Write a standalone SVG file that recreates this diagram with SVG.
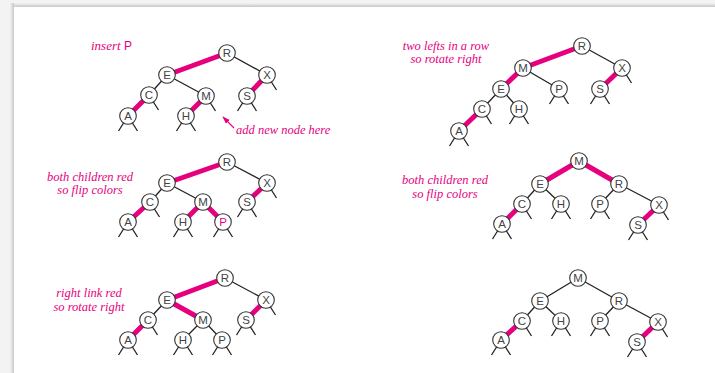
<svg xmlns="http://www.w3.org/2000/svg" width="715" height="373" viewBox="0 0 715 373">
<style>
.red{stroke:#e6007e;stroke-width:5;stroke-linecap:butt}
.blk{stroke:#222;stroke-width:1.3}
.stub{stroke:#222;stroke-width:1.3}
.nd circle{fill:#fff;stroke:#333;stroke-width:1.1}
.nd text{font-family:"Liberation Sans","DejaVu Sans",sans-serif;font-size:11.5px;fill:#444;text-anchor:middle}
.nd text.new{fill:#e6007e}
.lbl{font-family:"Liberation Serif",serif;font-style:italic;font-size:12.5px;fill:#e6007e;text-anchor:middle}
</style>
<defs>
<marker id="ah" viewBox="0 0 10 10" refX="9" refY="5" markerWidth="7" markerHeight="7" orient="auto">
<path d="M0,1.5 L10,5 L0,8.5 z" fill="#e6007e"/>
</marker>
<linearGradient id="shl" x1="0" x2="1" y1="0" y2="0"><stop offset="0" stop-color="#f3f3f3"/><stop offset="1" stop-color="#c8c8c8"/></linearGradient>
<linearGradient id="sht" x1="0" x2="0" y1="0" y2="1"><stop offset="0" stop-color="#f3f3f3"/><stop offset="1" stop-color="#c8c8c8"/></linearGradient>
</defs>
<rect x="0" y="0" width="715" height="373" fill="#f3f3f3"/>
<rect x="10" y="3" width="705" height="4" fill="url(#sht)"/>
<rect x="10" y="3" width="4" height="370" fill="url(#shl)"/>
<rect x="14" y="7" width="701" height="366" fill="#fff"/>

<g id="connectors">
<!-- panel 1 -->
<line class="red" x1="227" y1="53" x2="167" y2="75"/>
<line class="blk" x1="227" y1="53" x2="267" y2="75"/>
<line class="blk" x1="167" y1="75" x2="149" y2="95"/>
<line class="blk" x1="167" y1="75" x2="206" y2="96"/>
<line class="red" x1="149" y1="95" x2="128" y2="116"/>
<line class="red" x1="206" y1="96" x2="186" y2="116"/>
<line class="red" x1="267" y1="75" x2="247" y2="96"/>
<path class="stub" d="M128,116 l-9.5,15 M128,116 l9.5,15 M149,95 l9.5,15 M186,116 l-9.5,15 M186,116 l9.5,15 M206,96 l9.5,15 M247,96 l-9.5,15 M247,96 l9.5,15 M267,75 l9.5,15"/>
<line x1="234" y1="128" x2="223" y2="117" stroke="#e6007e" stroke-width="1.1" marker-end="url(#ah)"/>
<!-- panel 2 -->
<line class="red" x1="582" y1="46" x2="523" y2="68"/>
<line class="blk" x1="582" y1="46" x2="622" y2="68"/>
<line class="red" x1="523" y1="68" x2="501" y2="89"/>
<line class="blk" x1="523" y1="68" x2="559" y2="89"/>
<line class="blk" x1="501" y1="89" x2="482" y2="109"/>
<line class="blk" x1="501" y1="89" x2="519" y2="109"/>
<line class="red" x1="482" y1="109" x2="459" y2="131"/>
<line class="red" x1="622" y1="68" x2="600" y2="89"/>
<path class="stub" d="M459,131 l-9.5,15 M459,131 l9.5,15 M482,109 l9.5,15 M519,109 l-9.5,15 M519,109 l9.5,15 M559,89 l-9.5,15 M559,89 l9.5,15 M600,89 l-9.5,15 M600,89 l9.5,15 M622,68 l9.5,15"/>
<!-- panel 3 -->
<line class="red" x1="227" y1="162" x2="167" y2="183"/>
<line class="blk" x1="227" y1="162" x2="267" y2="183"/>
<line class="blk" x1="167" y1="183" x2="150" y2="202"/>
<line class="blk" x1="167" y1="183" x2="203" y2="202"/>
<line class="red" x1="150" y1="202" x2="128" y2="222"/>
<line class="red" x1="203" y1="202" x2="183" y2="222"/>
<line class="red" x1="203" y1="202" x2="223" y2="222"/>
<line class="red" x1="267" y1="183" x2="247" y2="202"/>
<path class="stub" d="M128,222 l-9.5,15 M128,222 l9.5,15 M150,202 l9.5,15 M183,222 l-9.5,15 M183,222 l9.5,15 M223,222 l-9.5,15 M223,222 l9.5,15 M247,202 l-9.5,15 M247,202 l9.5,15 M267,183 l9.5,15"/>
<!-- panel 4 -->
<line class="red" x1="579" y1="161" x2="540" y2="184"/>
<line class="red" x1="579" y1="161" x2="619" y2="184"/>
<line class="blk" x1="540" y1="184" x2="522" y2="204"/>
<line class="blk" x1="540" y1="184" x2="561" y2="204"/>
<line class="blk" x1="619" y1="184" x2="600" y2="204"/>
<line class="blk" x1="619" y1="184" x2="659" y2="205"/>
<line class="red" x1="522" y1="204" x2="502" y2="224"/>
<line class="red" x1="659" y1="205" x2="638" y2="225"/>
<path class="stub" d="M502,224 l-9.5,15 M502,224 l9.5,15 M522,204 l9.5,15 M561,204 l-9.5,15 M561,204 l9.5,15 M600,204 l-9.5,15 M600,204 l9.5,15 M638,225 l-9.5,15 M638,225 l9.5,15 M659,205 l9.5,15"/>
<!-- panel 5 -->
<line class="red" x1="225" y1="278" x2="167" y2="300"/>
<line class="blk" x1="225" y1="278" x2="266" y2="300"/>
<line class="blk" x1="167" y1="300" x2="148" y2="320"/>
<line class="red" x1="167" y1="300" x2="203" y2="320"/>
<line class="blk" x1="203" y1="320" x2="183" y2="340"/>
<line class="blk" x1="203" y1="320" x2="222" y2="340"/>
<line class="red" x1="148" y1="320" x2="128" y2="340"/>
<line class="red" x1="266" y1="300" x2="246" y2="320"/>
<path class="stub" d="M128,340 l-9.5,15 M128,340 l9.5,15 M148,320 l9.5,15 M183,340 l-9.5,15 M183,340 l9.5,15 M222,340 l-9.5,15 M222,340 l9.5,15 M246,320 l-9.5,15 M246,320 l9.5,15 M266,300 l9.5,15"/>
<!-- panel 6 -->
<line class="blk" x1="578" y1="278" x2="540" y2="301"/>
<line class="blk" x1="578" y1="278" x2="619" y2="301"/>
<line class="blk" x1="540" y1="301" x2="522" y2="321"/>
<line class="blk" x1="540" y1="301" x2="561" y2="321"/>
<line class="blk" x1="619" y1="301" x2="600" y2="321"/>
<line class="blk" x1="619" y1="301" x2="658" y2="322"/>
<line class="red" x1="522" y1="321" x2="501" y2="340"/>
<line class="red" x1="658" y1="322" x2="637" y2="342"/>
<path class="stub" d="M501,340 l-9.5,15 M501,340 l9.5,15 M522,321 l9.5,15 M561,321 l-9.5,15 M561,321 l9.5,15 M600,321 l-9.5,15 M600,321 l9.5,15 M637,342 l-9.5,15 M637,342 l9.5,15 M658,322 l9.5,15"/>
</g>

<g id="panel1">
<g id="p1R" class="nd"><circle cx="227" cy="53" r="8.3"/><text x="227" y="57">R</text></g>
<g id="p1E" class="nd"><circle cx="167" cy="75" r="8.3"/><text x="167" y="79">E</text></g>
<g id="p1X" class="nd"><circle cx="267" cy="75" r="8.3"/><text x="267" y="79">X</text></g>
<g id="p1C" class="nd"><circle cx="149" cy="95" r="8.3"/><text x="149" y="99">C</text></g>
<g id="p1M" class="nd"><circle cx="206" cy="96" r="8.3"/><text x="206" y="100">M</text></g>
<g id="p1S" class="nd"><circle cx="247" cy="96" r="8.3"/><text x="247" y="100">S</text></g>
<g id="p1A" class="nd"><circle cx="128" cy="116" r="8.3"/><text x="128" y="120">A</text></g>
<g id="p1H" class="nd"><circle cx="186" cy="116" r="8.3"/><text x="186" y="120">H</text></g>
<text class="lbl" x="91" y="50" style="text-anchor:start;font-size:13px">insert <tspan style="font-style:normal;font-family:'Liberation Sans',sans-serif;font-size:12px">P</tspan></text>
<text class="lbl" x="236" y="134" style="text-anchor:start">add new node here</text>
</g>

<g id="panel2">
<g id="p2R" class="nd"><circle cx="582" cy="46" r="8.3"/><text x="582" y="50">R</text></g>
<g id="p2M" class="nd"><circle cx="523" cy="68" r="8.3"/><text x="523" y="72">M</text></g>
<g id="p2X" class="nd"><circle cx="622" cy="68" r="8.3"/><text x="622" y="72">X</text></g>
<g id="p2E" class="nd"><circle cx="501" cy="89" r="8.3"/><text x="501" y="93">E</text></g>
<g id="p2P" class="nd"><circle cx="559" cy="89" r="8.3"/><text x="559" y="93">P</text></g>
<g id="p2S" class="nd"><circle cx="600" cy="89" r="8.3"/><text x="600" y="93">S</text></g>
<g id="p2C" class="nd"><circle cx="482" cy="109" r="8.3"/><text x="482" y="113">C</text></g>
<g id="p2H" class="nd"><circle cx="519" cy="109" r="8.3"/><text x="519" y="113">H</text></g>
<g id="p2A" class="nd"><circle cx="459" cy="131" r="8.3"/><text x="459" y="135">A</text></g>
<text class="lbl" x="446" y="50">two lefts in a row</text>
<text class="lbl" x="446" y="63">so rotate right</text>
</g>

<g id="panel3">
<g id="p3R" class="nd"><circle cx="227" cy="162" r="8.3"/><text x="227" y="166">R</text></g>
<g id="p3E" class="nd"><circle cx="167" cy="183" r="8.3"/><text x="167" y="187">E</text></g>
<g id="p3X" class="nd"><circle cx="267" cy="183" r="8.3"/><text x="267" y="187">X</text></g>
<g id="p3C" class="nd"><circle cx="150" cy="202" r="8.3"/><text x="150" y="206">C</text></g>
<g id="p3M" class="nd"><circle cx="203" cy="202" r="8.3"/><text x="203" y="206">M</text></g>
<g id="p3S" class="nd"><circle cx="247" cy="202" r="8.3"/><text x="247" y="206">S</text></g>
<g id="p3A" class="nd"><circle cx="128" cy="222" r="8.3"/><text x="128" y="226">A</text></g>
<g id="p3H" class="nd"><circle cx="183" cy="222" r="8.3"/><text x="183" y="226">H</text></g>
<g id="p3P" class="nd"><circle cx="223" cy="222" r="8.3"/><text class="new" x="223" y="226">P</text></g>
<text class="lbl" x="90" y="181">both children red</text>
<text class="lbl" x="90" y="194">so flip colors</text>
</g>

<g id="panel4">
<g id="p4M" class="nd"><circle cx="579" cy="161" r="8.3"/><text x="579" y="165">M</text></g>
<g id="p4E" class="nd"><circle cx="540" cy="184" r="8.3"/><text x="540" y="188">E</text></g>
<g id="p4R" class="nd"><circle cx="619" cy="184" r="8.3"/><text x="619" y="188">R</text></g>
<g id="p4C" class="nd"><circle cx="522" cy="204" r="8.3"/><text x="522" y="208">C</text></g>
<g id="p4H" class="nd"><circle cx="561" cy="204" r="8.3"/><text x="561" y="208">H</text></g>
<g id="p4P" class="nd"><circle cx="600" cy="204" r="8.3"/><text x="600" y="208">P</text></g>
<g id="p4X" class="nd"><circle cx="659" cy="205" r="8.3"/><text x="659" y="209">X</text></g>
<g id="p4A" class="nd"><circle cx="502" cy="224" r="8.3"/><text x="502" y="228">A</text></g>
<g id="p4S" class="nd"><circle cx="638" cy="225" r="8.3"/><text x="638" y="229">S</text></g>
<text class="lbl" x="445" y="184">both children red</text>
<text class="lbl" x="445" y="198">so flip colors</text>
</g>

<g id="panel5">
<g id="p5R" class="nd"><circle cx="225" cy="278" r="8.3"/><text x="225" y="282">R</text></g>
<g id="p5E" class="nd"><circle cx="167" cy="300" r="8.3"/><text x="167" y="304">E</text></g>
<g id="p5X" class="nd"><circle cx="266" cy="300" r="8.3"/><text x="266" y="304">X</text></g>
<g id="p5C" class="nd"><circle cx="148" cy="320" r="8.3"/><text x="148" y="324">C</text></g>
<g id="p5M" class="nd"><circle cx="203" cy="320" r="8.3"/><text x="203" y="324">M</text></g>
<g id="p5S" class="nd"><circle cx="246" cy="320" r="8.3"/><text x="246" y="324">S</text></g>
<g id="p5A" class="nd"><circle cx="128" cy="340" r="8.3"/><text x="128" y="344">A</text></g>
<g id="p5H" class="nd"><circle cx="183" cy="340" r="8.3"/><text x="183" y="344">H</text></g>
<g id="p5P" class="nd"><circle cx="222" cy="340" r="8.3"/><text x="222" y="344">P</text></g>
<text class="lbl" x="89" y="297">right link red</text>
<text class="lbl" x="89" y="311">so rotate right</text>
</g>

<g id="panel6">
<g id="p6M" class="nd"><circle cx="578" cy="278" r="8.3"/><text x="578" y="282">M</text></g>
<g id="p6E" class="nd"><circle cx="540" cy="301" r="8.3"/><text x="540" y="305">E</text></g>
<g id="p6R" class="nd"><circle cx="619" cy="301" r="8.3"/><text x="619" y="305">R</text></g>
<g id="p6C" class="nd"><circle cx="522" cy="321" r="8.3"/><text x="522" y="325">C</text></g>
<g id="p6H" class="nd"><circle cx="561" cy="321" r="8.3"/><text x="561" y="325">H</text></g>
<g id="p6P" class="nd"><circle cx="600" cy="321" r="8.3"/><text x="600" y="325">P</text></g>
<g id="p6X" class="nd"><circle cx="658" cy="322" r="8.3"/><text x="658" y="326">X</text></g>
<g id="p6A" class="nd"><circle cx="501" cy="340" r="8.3"/><text x="501" y="344">A</text></g>
<g id="p6S" class="nd"><circle cx="637" cy="342" r="8.3"/><text x="637" y="346">S</text></g>
</g>
</svg>
